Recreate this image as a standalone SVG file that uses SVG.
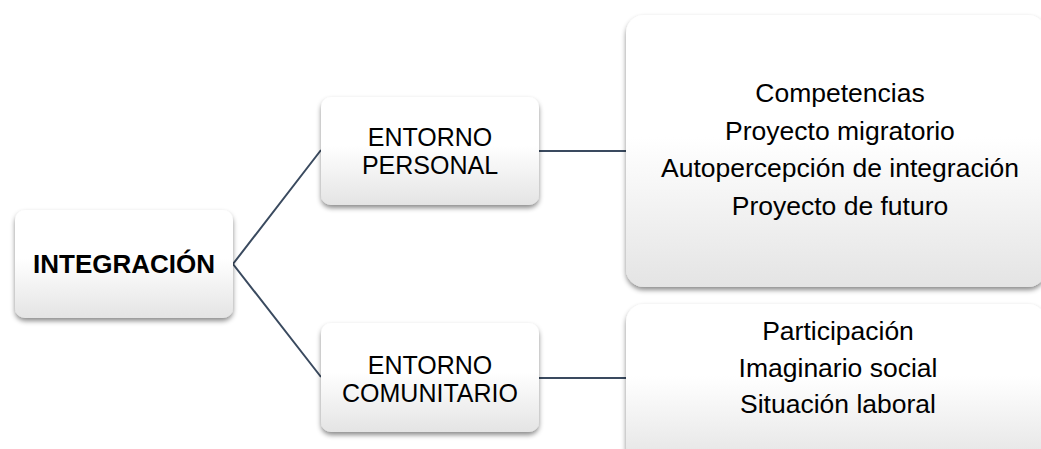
<svg xmlns="http://www.w3.org/2000/svg" width="1041" height="449" viewBox="0 0 1041 449">
  <defs>
    <linearGradient id="boxFill" x1="0" y1="0" x2="0" y2="1">
      <stop offset="0" stop-color="#ffffff"/>
      <stop offset="0.45" stop-color="#ffffff"/>
      <stop offset="1" stop-color="#e4e4e4"/>
    </linearGradient>
    <filter id="shadow" x="-10%" y="-10%" width="120%" height="130%">
      <feDropShadow dx="0" dy="3" stdDeviation="2.5" flood-color="#000000" flood-opacity="0.45"/>
    </filter>
    <style>
      .box { fill: url(#boxFill); filter: url(#shadow); }
      .label { font-family: "Liberation Sans", Arial, sans-serif; font-size: 26px; fill: #000000; text-anchor: middle; }
      .pair { font-size: 25px; }
      .items { font-size: 26.5px; }
      .bold { font-weight: bold; }
      .conn { stroke: #3a4a5f; stroke-width: 2; fill: none; }
    </style>
  </defs>
  <rect width="1041" height="449" fill="#ffffff"/>

  <g id="connectors">
    <polyline class="conn" points="321,150 233,264 321,377"/>
    <line class="conn" x1="539" y1="151" x2="626" y2="151"/>
    <line class="conn" x1="539" y1="378" x2="626" y2="378"/>
  </g>

  <g id="integracion">
    <rect class="box" x="15" y="210" width="218" height="108" rx="10"/>
    <text class="label bold" x="124" y="273">INTEGRACIÓN</text>
  </g>

  <g id="entorno-personal">
    <rect class="box" x="321" y="97" width="218" height="108" rx="10"/>
    <text class="label pair" x="430" y="146">ENTORNO</text>
    <text class="label pair" x="430" y="174">PERSONAL</text>
  </g>

  <g id="entorno-comunitario">
    <rect class="box" x="321" y="323" width="218" height="109" rx="10"/>
    <text class="label pair" x="430" y="374">ENTORNO</text>
    <text class="label pair" x="430" y="402">COMUNITARIO</text>
  </g>

  <g id="personal-items">
    <rect class="box" x="626" y="15" width="420" height="272" rx="18"/>
    <text class="label items" x="840" y="102">Competencias</text>
    <text class="label items" x="840" y="140">Proyecto migratorio</text>
    <text class="label items" x="840" y="177">Autopercepción de integración</text>
    <text class="label items" x="840" y="215">Proyecto de futuro</text>
  </g>

  <g id="comunitario-items">
    <rect class="box" x="626" y="304" width="420" height="160" rx="18"/>
    <text class="label items" x="838" y="340">Participación</text>
    <text class="label items" x="838" y="377">Imaginario social</text>
    <text class="label items" x="838" y="413">Situación laboral</text>
  </g>
</svg>
